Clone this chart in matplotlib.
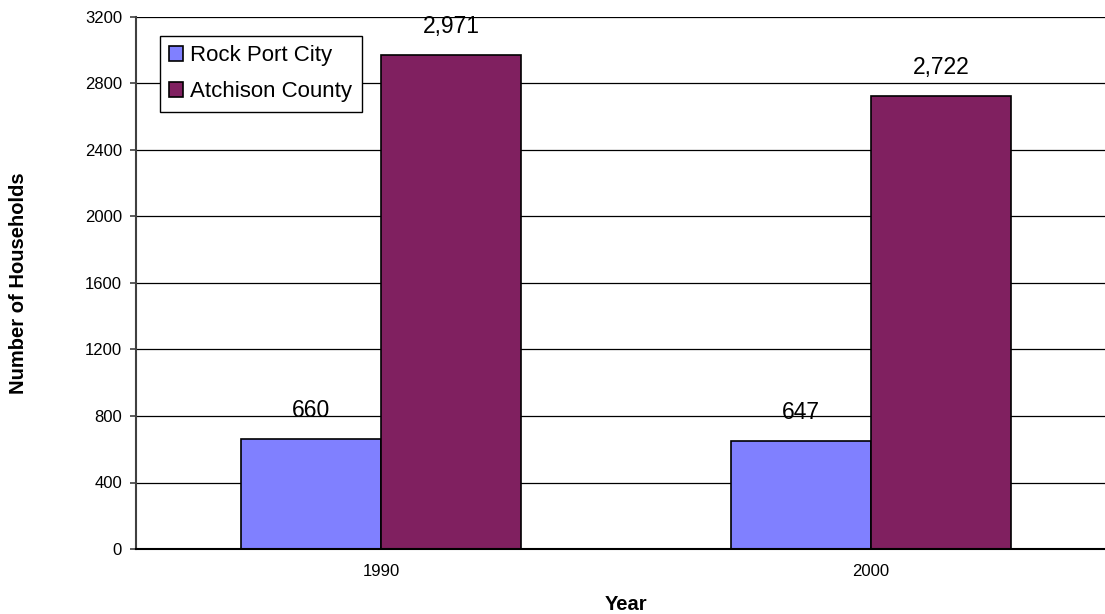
import matplotlib
matplotlib.use("Agg")
import matplotlib.pyplot as plt
import numpy as np

plt.rcParams['font.family'] = ['Liberation Sans', 'DejaVu Sans']

years = ["1990", "2000"]
rock_port = [660, 647]
atchison = [2971, 2722]
series_names = ["Rock Port City", "Atchison County"]
colors = ["#8080FF", "#802060"]
y_ticks = [0, 400, 800, 1200, 1600, 2000, 2400, 2800, 3200]

fig = plt.figure(figsize=(11.05, 6.14), dpi=100)
# axes runs a little past the right edge of the figure
ax = fig.add_axes([136 / 1105, 1 - 549 / 614, 980 / 1105, 532 / 614])

x = np.arange(len(years))
w = 0.2857
for i, vals in enumerate([rock_port, atchison]):
    offset = (i - 0.5) * w
    ax.bar(x + offset, vals, w, color=colors[i], edgecolor="black",
           linewidth=1.2, label=series_names[i], zorder=3)
    for xi, v in zip(x + offset, vals):
        ax.annotate(f"{v:,}", (xi, v), xytext=(0, 16), textcoords="offset points",
                    ha="center", va="baseline", fontsize=16.5)

ax.set_xlim(-0.5, 1.5)
ax.set_ylim(0, 3200)
ax.set_xticks(x)
ax.set_xticklabels(years)
ax.set_yticks(y_ticks)
ax.tick_params(axis="x", length=0, pad=10.5, labelsize=12)
ax.tick_params(axis="y", length=4.3, width=1.2, pad=5.8, labelsize=12, color="#404040")
ax.yaxis.grid(True, color="black", linewidth=0.9, zorder=0)
ax.set_axisbelow(True)

for s in ["top", "right"]:
    ax.spines[s].set_visible(False)
ax.spines["left"].set_color("#404040")
ax.spines["left"].set_linewidth(1.5)
ax.spines["bottom"].set_color("black")
ax.spines["bottom"].set_linewidth(1.5)
ax.spines["bottom"].set_zorder(4)

fig.text(19 / 1105, 1 - 283 / 614, "Number of Households", rotation=90,
         ha="center", va="center", fontsize=14.5, fontweight="bold")
fig.text(626 / 1105, 1 - 610 / 614, "Year", ha="center", va="baseline",
         fontsize=14.5, fontweight="bold")

leg = ax.legend(loc="upper left", bbox_to_anchor=(160 / 1105, 1 - 36 / 614),
                bbox_transform=fig.transFigure, borderaxespad=0, fontsize=16,
                handlelength=0.63, handleheight=0.63, handletextpad=0.32,
                labelspacing=0.68, borderpad=0.42, fancybox=False,
                framealpha=1, edgecolor="black")
leg.get_frame().set_linewidth(1.0)

fig.savefig("out.png", dpi=100)
